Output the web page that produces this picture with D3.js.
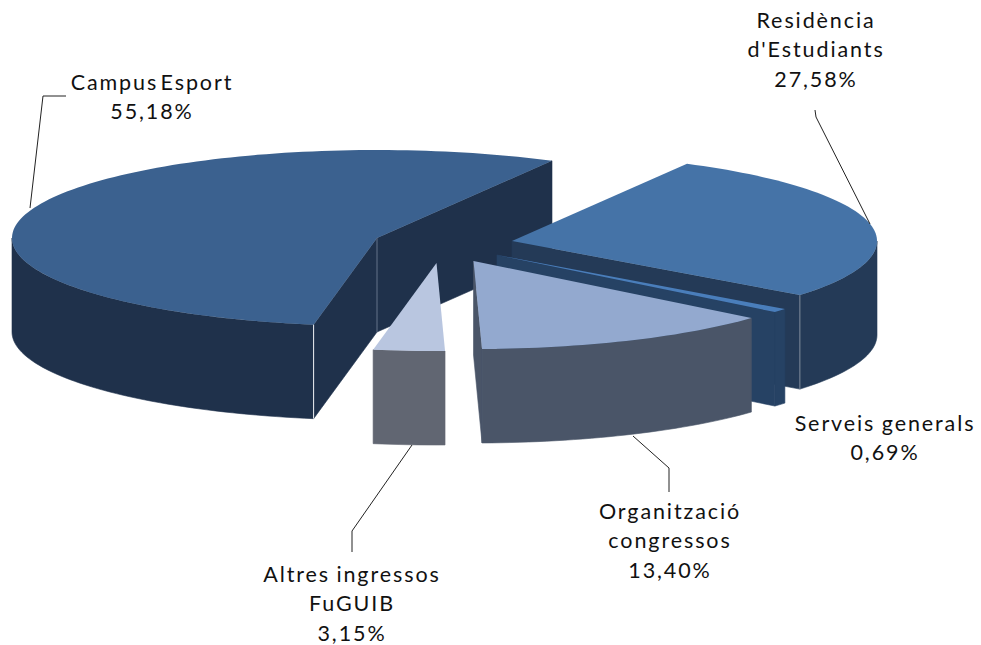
<!DOCTYPE html>
<html><head><meta charset="utf-8">
<script src="https://cdn.jsdelivr.net/npm/d3@7"></script>
<style>html,body{margin:0;padding:0;background:#fff}svg{display:block}
text{font-family:Lato,"Open Sans",sans-serif;font-size:21.5px;fill:#111;letter-spacing:1.9px;text-anchor:middle}</style>
</head><body><div id="c"></div>
<script>
const categories=[["Campus Esport"],["Residència","d'Estudiants"],["Serveis generals"],["Organització","congressos"],["Altres ingressos","FuGUIB"]];
const values=[55.18,27.58,0.69,13.40,3.15];
const topColors=["#3B618F","#4573A7","#4A7EBB","#93A9CF","#B9C6E0"];
const sideColors=["#1F314B","#243A57","#264264","#4A5568","#616672"];
const apexX=[377,512,497,473.5,436.5], apexY=[238,241,255,261,263];
const labelX=[152,816,885,670,352], labelY=[90,28,431,519,582];
const wordGap=[-5,-5,-1,-5,-1];
const leaders=[[[66,96],[43,96],[30,208]],[[815,110],[816,117],[870,224]],[],[[633,436],[669,468],[669,492]],[[412,445],[352,531],[352,552]]];

const W=981,H=645,depth=94,lineH=29.3;
const rad=d3.scaleLinear().domain([0,360]).range([0,2*Math.PI]);
const sx=d3.scaleLinear().domain([-1,1]).range([-365,365]);
const sy=d3.scaleLinear().domain([-1,1]).range([-88,88]);
const svg=d3.select("#c").append("svg").attr("width",W).attr("height",H);
const pie=d3.pie().sort(null).startAngle(rad(190)).endAngle(rad(550));
const arcs=pie(values);
const fmt=d3.formatLocale({decimal:",",thousands:".",grouping:[3],currency:["","%"]}).format(".2f");
const line=d3.line();

function pt(i,t,dz=0){return [apexX[i]+sx(Math.sin(t)),apexY[i]-sy(Math.cos(t))+dz];}
function samples(a,b){const n=Math.max(2,Math.ceil(Math.abs(b-a)/rad(1.5)));return d3.range(n+1).map(k=>a+(b-a)*k/n);}

arcs.forEach((a,i)=>{
  const g=svg.append("g");
  const s=a.startAngle,e=a.endAngle,side=sideColors[i];
  const apex=[apexX[i],apexY[i]],apexB=[apexX[i],apexY[i]+depth];
  const wall=t=>g.append("path").attr("d",line([apex,pt(i,t),pt(i,t,depth),apexB])+"Z").attr("fill",side).attr("stroke",side).attr("stroke-width",.6);
  if(Math.sin(s)<0) wall(s);
  if(Math.sin(e)>0) wall(e);
  // visible outer rim: front half only
  [[rad(90),rad(270)],[rad(450),rad(630)]].forEach(([lo,hi])=>{
    const a0=Math.max(s,lo),a1=Math.min(e,hi);
    if(a1>a0){const ts=samples(a0,a1);
      g.append("path").attr("d",line(ts.map(t=>pt(i,t)).concat(ts.slice().reverse().map(t=>pt(i,t,depth))))+"Z")
       .attr("fill",side).attr("stroke",side).attr("stroke-width",.6);}
  });
  // top face
  g.append("path").attr("d",line([apex].concat(samples(s,e).map(t=>pt(i,t))))+"Z").attr("fill",topColors[i]);
  // edge highlights
  const edge=(p,q,c)=>g.append("path").attr("d",line([p,q])).attr("stroke",c).attr("stroke-width",1).attr("fill","none");
  if(i===0){edge(pt(0,s),pt(0,s,depth),"#F2F4F7");edge(apex,apexB,"#65748A");}
  if(i===1){edge(pt(1,e),pt(1,e,depth),"#7F8B9B");}
});

// leaders
leaders.forEach(l=>{ if(l.length) svg.append("path").attr("d",line(l)).attr("fill","none").attr("stroke","#222").attr("stroke-width",1);});
// labels
categories.forEach((c,i)=>{
  const lines=c.concat([fmt(values[i])+"%"]);
  lines.forEach((t,k)=>svg.append("text").attr("x",labelX[i]).attr("y",labelY[i]+k*lineH).style("word-spacing",wordGap[i]+"px").text(t));
});
</script></body></html>
